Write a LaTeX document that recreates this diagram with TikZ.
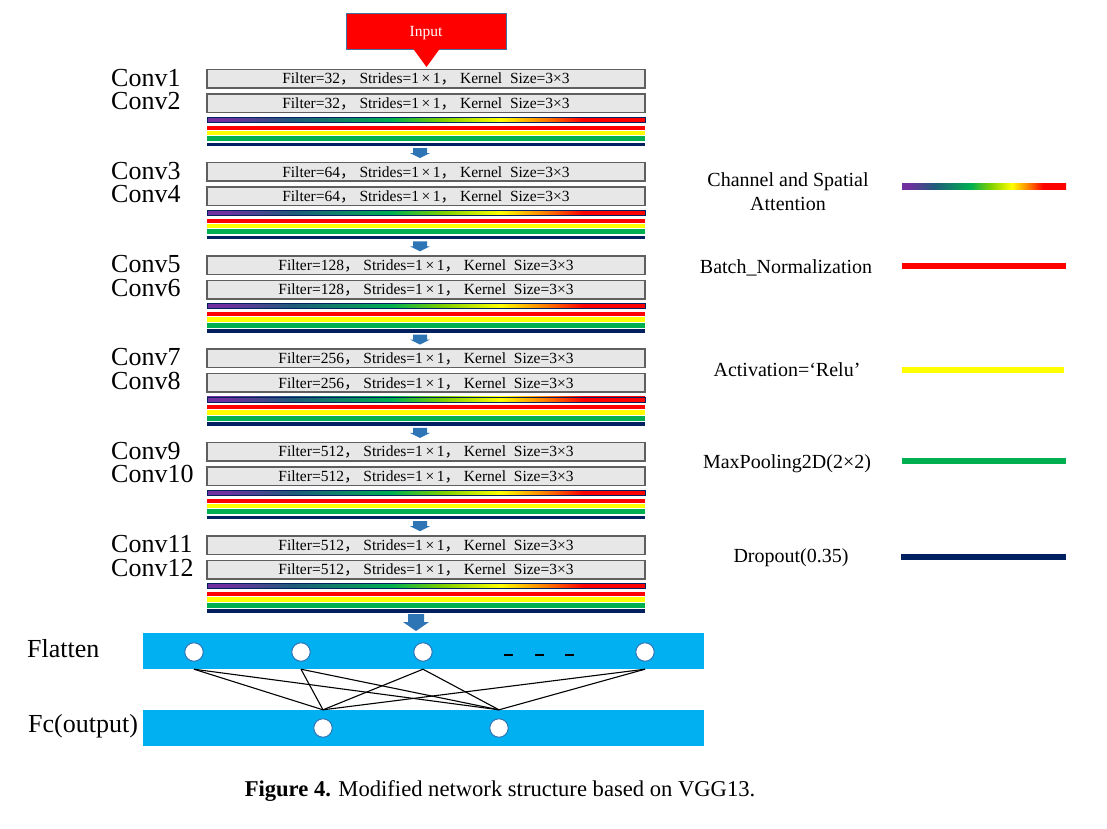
\documentclass[tikz,border=0pt]{standalone}
\usepackage{fontspec}
\setmainfont{Liberation Serif}
\newfontfamily\cjkfont{Noto Sans CJK SC}
\newcommand{\fwcomma}{{\cjkfont ，}}
\definecolor{inred}{HTML}{FF0000}
\definecolor{inborder}{HTML}{41719C}
\definecolor{boxfill}{HTML}{E7E7E7}
\definecolor{boxborder}{HTML}{5F5F5F}
\definecolor{attpurple}{HTML}{7030A0}
\definecolor{attteal}{HTML}{1F5C7A}
\definecolor{attgreen}{HTML}{00B050}
\definecolor{attlime}{HTML}{80D000}
\definecolor{attorange}{HTML}{FF8000}
\definecolor{bnred}{HTML}{FF0000}
\definecolor{relu}{HTML}{FFFF00}
\definecolor{pool}{HTML}{00B050}
\definecolor{drop}{HTML}{002060}
\definecolor{arrowblue}{HTML}{2E75B6}
\definecolor{fcblue}{HTML}{00B0F0}
\pgfdeclarehorizontalshading{attn}{100bp}{color(0bp)=(attpurple); color(25bp)=(attpurple); color(27bp)=(attpurple); color(35bp)=(attteal); color(46bp)=(attgreen); color(52bp)=(attlime); color(58.5bp)=(relu); color(63.5bp)=(attorange); color(68bp)=(bnred); color(75bp)=(bnred); color(100bp)=(bnred)}
\begin{document}
\begin{tikzpicture}[x=1pt,y=-1pt,
  conv/.style={draw=boxborder, line width=1.5pt, fill=boxfill, minimum width=438pt, minimum height=18.5pt, inner sep=0pt, font=\fontsize{15.5}{17}\selectfont, text height=10.5pt, text depth=0pt},
  convlabel/.style={anchor=west, inner sep=0pt, font=\fontsize{26}{30}\selectfont, text height=18pt, text depth=0pt},
  leglabel/.style={inner sep=0pt, font=\fontsize{20}{24}\selectfont, text height=14pt, text depth=0pt, align=center},
  legline/.style={line width=6pt},
  inputbox/.style={draw=inborder, line width=1pt, fill=inred, text=white, minimum width=160pt, minimum height=36pt, inner sep=0pt, font=\fontsize{15.5}{17}\selectfont, text height=10.5pt, text depth=0pt},
  band/.style={fill=fcblue, minimum width=561pt, minimum height=36pt, inner sep=0pt},
  neuron/.style={circle, fill=white, draw=arrowblue, line width=1pt, minimum size=18.5pt, inner sep=0pt},
  link/.style={draw=black, line width=1.1pt},
  dashmark/.style={line width=2pt},
  smallarrow/.pic={\fill[arrowblue] (-7,0) -- (7,0) -- (7,5) -- (10,5) -- (0,10) -- (-10,5) -- (-7,5) -- cycle;},
  bigarrow/.pic={\fill[arrowblue] (-8,0) -- (8,0) -- (8,8) -- (13,8) -- (0,17) -- (-13,8) -- (-8,8) -- cycle;}
]
\fill[white] (0,0) rectangle (1107,828);
\useasboundingbox (0,0) rectangle (1107,828);

% input
\node[inputbox] (input) at (426,31) {Input};
\fill[inred] (413,48.5) -- (440,48.5) -- (426.5,67) -- cycle;

% conv blocks
\foreach \i/\n/\f in {0/1/32,1/3/64,2/5/128,3/7/256,4/9/512,5/11/512}{
  \pgfmathsetmacro{\t}{69+93.3*\i}
  \pgfmathtruncatemacro{\m}{\n+1}
  \node[conv] (conv\n) at (426,\t+9.5) {Filter=\f\fwcomma\ Strides=1\,×\,1\fwcomma\ Kernel\ \ Size=3×3};
  \node[conv] (conv\m) at (426,\t+34) {Filter=\f\fwcomma\ Strides=1\,×\,1\fwcomma\ Kernel\ \ Size=3×3};
  \node[convlabel] (lab\n) at (111,\t+8) {Conv\n};
  \node[convlabel] (lab\m) at (111,\t+31.5) {Conv\m};
  \shadedraw[shading=attn, draw=drop, line width=0.5pt] (207,\t+48) rectangle (645,\t+53);
  \fill[bnred] (207,\t+56.5) rectangle (645,\t+60.5);
  \fill[relu] (207,\t+61.5) rectangle (645,\t+66);
  \fill[pool] (207,\t+67) rectangle (645,\t+72);
  \fill[drop] (207,\t+73.5) rectangle (645,\t+77);
}
\foreach \i in {0,...,4}{
  \pgfmathsetmacro{\t}{69+93.3*\i}
  \pic at (420,\t+79) {smallarrow};
}
\pic at (416,614) {bigarrow};

% flatten and fc
\node[band] (flat) at (423.5,651) {};
\node[band] (fc) at (423.5,728) {};
\node[convlabel] (flatlab) at (27,648) {Flatten};
\node[convlabel] (fclab) at (28,723) {Fc(output)};
\node[neuron] (f1) at (194,652) {};
\node[neuron] (f2) at (301,652) {};
\node[neuron] (f3) at (423,652) {};
\node[neuron] (f4) at (645,652) {};
\node[neuron] (c1) at (323,728) {};
\node[neuron] (c2) at (499,728) {};
\draw[dashmark] (504,655) -- (513,655);
\draw[dashmark] (535,655) -- (544,655);
\draw[dashmark] (565,655) -- (574,655);
\foreach \a in {f1,f2,f3,f4}{
  \foreach \b in {c1,c2}{
    \draw[link] (\a |- flat.south) -- (\b |- fc.north);
  }
}

% legend
\node[leglabel] (leg1) at (788,203) {Channel and Spatial\\Attention};
\shade[shading=attn] (902,183) rectangle (1066,189);
\node[leglabel] (leg2) at (786,266) {Batch\_Normalization};
\draw[legline, bnred] (902,266) -- (1066,266);
\node[leglabel] (leg3) at (787,369) {Activation=‘Relu’};
\draw[legline, relu] (902,370) -- (1064,370);
\node[leglabel] (leg4) at (787,461) {MaxPooling2D(2×2)};
\draw[legline, pool] (902,461) -- (1066,461);
\node[leglabel] (leg5) at (791,555) {Dropout(0.35)};
\draw[legline, drop] (901,557) -- (1066,557);

% caption
\node[inner sep=0pt, font=\fontsize{22.6}{26}\selectfont, text height=15.5pt, text depth=0pt] (cap) at (500,789) {\textbf{Figure 4.} Modified network structure based on VGG13.};
\end{tikzpicture}
\end{document}
